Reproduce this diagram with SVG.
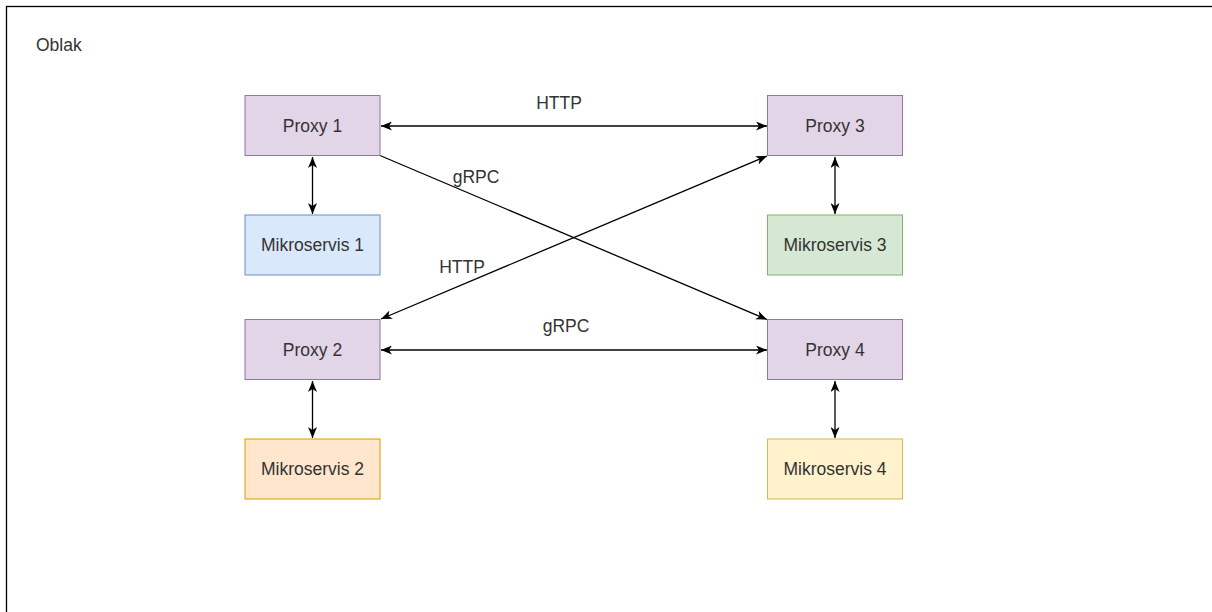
<svg xmlns="http://www.w3.org/2000/svg" width="1212" height="612" viewBox="0 0 1212 612">
<style>
text{font-family:"Liberation Sans",Arial,sans-serif;font-size:17.5px;fill:#333}
.node text{text-anchor:middle}
.proxy{fill:#e1d5e7;stroke:#9673a6;stroke-width:1}
.edge{fill:none;stroke:#000;stroke-width:1.3}
.lbl{text-anchor:middle}
</style>
<defs>
<marker id="arr" viewBox="0 0 11 9" refX="11" refY="4.5" markerWidth="11" markerHeight="9" markerUnits="userSpaceOnUse" orient="auto-start-reverse">
<path d="M0,0 L11,4.5 L0,9 L3,4.5 Z" fill="#000"/>
</marker>
</defs>
<rect x="6.5" y="6.5" width="1230" height="640" fill="#fff" stroke="#000" stroke-width="1.3"/>
<text x="36" y="51">Oblak</text>
<g id="connectors">
<line class="edge" x1="381" y1="126" x2="767" y2="126" marker-start="url(#arr)" marker-end="url(#arr)"/>
<line class="edge" x1="380" y1="155.5" x2="767" y2="319.5" marker-end="url(#arr)"/>
<line class="edge" x1="381" y1="319" x2="767" y2="156" marker-start="url(#arr)" marker-end="url(#arr)"/>
<line class="edge" x1="381" y1="350" x2="767" y2="350" marker-start="url(#arr)" marker-end="url(#arr)"/>
<line class="edge" x1="312.5" y1="157" x2="312.5" y2="214" marker-start="url(#arr)" marker-end="url(#arr)"/>
<line class="edge" x1="312.5" y1="381" x2="312.5" y2="438" marker-start="url(#arr)" marker-end="url(#arr)"/>
<line class="edge" x1="835" y1="157" x2="835" y2="214" marker-start="url(#arr)" marker-end="url(#arr)"/>
<line class="edge" x1="835" y1="381" x2="835" y2="438" marker-start="url(#arr)" marker-end="url(#arr)"/>
<text class="lbl" x="559" y="109">HTTP</text>
<text class="lbl" x="476" y="183">gRPC</text>
<text class="lbl" x="462" y="273">HTTP</text>
<text class="lbl" x="566" y="332">gRPC</text>
</g>
<g id="proxy1" class="node"><rect class="proxy" x="245" y="95.5" width="135" height="60"/><text x="312.5" y="131.5">Proxy 1</text></g>
<g id="proxy2" class="node"><rect class="proxy" x="245" y="319.5" width="135" height="60"/><text x="312.5" y="355.5">Proxy 2</text></g>
<g id="proxy3" class="node"><rect class="proxy" x="767.5" y="95.5" width="135" height="60"/><text x="835" y="131.5">Proxy 3</text></g>
<g id="proxy4" class="node"><rect class="proxy" x="767.5" y="319.5" width="135" height="60"/><text x="835" y="355.5">Proxy 4</text></g>
<g id="ms1" class="node"><rect x="245" y="215" width="135" height="60" fill="#dae8fc" stroke="#6c8ebf"/><text x="312.5" y="251">Mikroservis 1</text></g>
<g id="ms2" class="node"><rect x="245" y="439" width="135" height="60" fill="#ffe6cc" stroke="#d79b00"/><text x="312.5" y="475">Mikroservis 2</text></g>
<g id="ms3" class="node"><rect x="767.5" y="215" width="135" height="60" fill="#d5e8d4" stroke="#82b366"/><text x="835" y="251">Mikroservis 3</text></g>
<g id="ms4" class="node"><rect x="767.5" y="439" width="135" height="60" fill="#fff2cc" stroke="#d6b656"/><text x="835" y="475">Mikroservis 4</text></g>
</svg>
